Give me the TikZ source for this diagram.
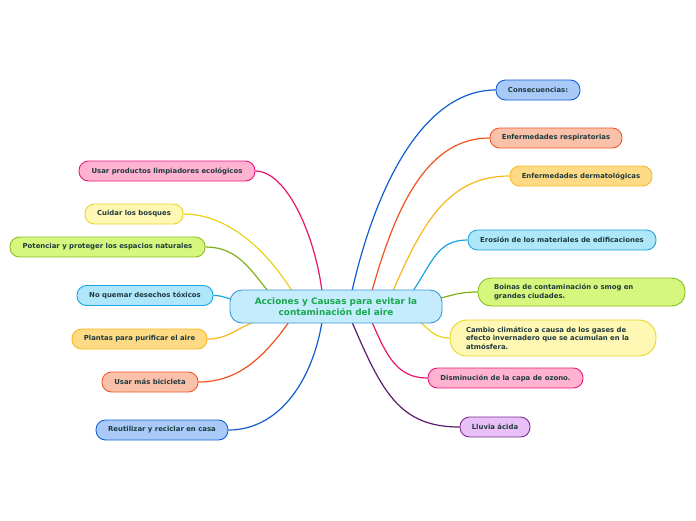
\documentclass[tikz,border=0pt]{standalone}
\usepackage{fontspec}
\setmainfont{DejaVu Sans}
\begin{document}
\begin{tikzpicture}[x=1pt,y=-1pt,
  every node/.style={font=\fontsize{6.9}{8.3}\selectfont\bfseries, text=txt},
  topic/.style={draw, line width=0.9pt, rounded corners=9.5pt, minimum height=20pt, inner xsep=6pt, inner ysep=2pt},
  edge/.style={line width=1.2pt}]
\definecolor{txt}{HTML}{1F3A3D}
\definecolor{pinkF}{HTML}{FFB3D1}\definecolor{pinkB}{HTML}{E8197A}\definecolor{pinkE}{HTML}{E8146E}
\definecolor{yelF}{HTML}{FFF8B5}\definecolor{yelB}{HTML}{EBD42A}\definecolor{yelE}{HTML}{E8D21A}
\definecolor{grnF}{HTML}{D6F77E}\definecolor{grnB}{HTML}{8DBE22}\definecolor{grnE}{HTML}{80B318}
\definecolor{lbF}{HTML}{AEE6FA}\definecolor{lbB}{HTML}{1BA6E3}\definecolor{lbE}{HTML}{18A5E0}
\definecolor{orF}{HTML}{FFDA85}\definecolor{orB}{HTML}{F7B924}\definecolor{orE}{HTML}{F8B71C}
\definecolor{saF}{HTML}{F9C0AA}\definecolor{saB}{HTML}{F05A2A}\definecolor{saE}{HTML}{F0521E}
\definecolor{blF}{HTML}{A9CAF8}\definecolor{blB}{HTML}{1560D5}\definecolor{blE}{HTML}{105ED0}
\definecolor{puF}{HTML}{E8C0F7}\definecolor{puB}{HTML}{7B2F8E}\definecolor{puE}{HTML}{5C1A6E}
\definecolor{cF}{HTML}{C4ECFC}\definecolor{cB}{HTML}{3A96D8}\definecolor{cT}{HTML}{18A84E}
\useasboundingbox (0,0) rectangle (696,520);
\fill[white] (0,0) rectangle (696,520);

% attachment coordinates on the central topic
\coordinate (a1) at (322,291);
\coordinate (a2) at (292,291);
\coordinate (a3) at (268,291);
\coordinate (a4) at (231,299);
\coordinate (a5) at (254,322);
\coordinate (a6) at (289,322);
\coordinate (a7) at (322,322);
\coordinate (b1) at (352,291);
\coordinate (b2) at (372,291);
\coordinate (b3) at (393,291);
\coordinate (b4) at (413,291);
\coordinate (b5) at (441,298);
\coordinate (b6) at (420,322);
\coordinate (b7) at (372,322);
\coordinate (b8) at (352,322);

% left topics
\node[topic, fill=pinkF, draw=pinkB, minimum width=176pt] (l1) at (167,171) {Usar productos limpiadores ecológicos};
\node[topic, fill=yelF, draw=yelB, minimum width=98pt] (l2) at (134,214) {Cuidar los bosques};
\node[topic, fill=grnF, draw=grnB, minimum width=195pt] (l3) at (107.5,247) {Potenciar y proteger los espacios naturales};
\node[topic, fill=lbF, draw=lbB, minimum width=136pt] (l4) at (145,295.5) {No quemar desechos tóxicos};
\node[topic, fill=orF, draw=orB, minimum width=135pt] (l5) at (139.5,339) {Plantas para purificar el aire};
\node[topic, fill=saF, draw=saB, minimum width=96pt] (l6) at (150,382) {Usar más bicicleta};
\node[topic, fill=blF, draw=blB, minimum width=132pt] (l7) at (162,430) {Reutilizar y reciclar en casa};

% right topics
\node[topic, fill=blF, draw=blB, minimum width=84pt] (r1) at (538,90) {Consecuencias:};
\node[topic, fill=saF, draw=saB, minimum width=132pt] (r2) at (556,138) {Enfermedades respiratorias};
\node[topic, fill=orF, draw=orB, minimum width=142pt] (r3) at (581,176) {Enfermedades dermatológicas};
\node[topic, fill=lbF, draw=lbB, minimum width=188pt] (r4) at (562,240) {Erosión de los materiales de edificaciones};
\node[topic, fill=grnF, draw=grnB, minimum width=207pt, minimum height=28pt, rounded corners=13pt, align=left, text width=175pt, inner xsep=16pt] (r5) at (581.5,292) {Boinas de contaminación o smog en\\grandes ciudades.};
\node[topic, fill=yelF, draw=yelB, minimum width=206pt, minimum height=36pt, rounded corners=17pt, align=left, text width=174pt, inner xsep=16pt] (r6) at (553,338) {Cambio climático a causa de los gases de\\efecto invernadero que se acumulan en la\\atmósfera.};
\node[topic, fill=pinkF, draw=pinkB, minimum width=155pt] (r7) at (505.5,378) {Disminución de la capa de ozono.};
\node[topic, fill=puF, draw=puB, minimum width=70pt] (r8) at (495,427) {Lluvia ácida};

% connectors
\draw[edge, pinkE] (l1.east) .. controls +(30,0) and +(-8,-60) .. (a1);
\draw[edge, yelE] (l2.east) .. controls +(45,0) and +(-25,-40) .. (a2);
\draw[edge, grnE] (l3.east) .. controls +(30,0) and +(-20,-25) .. (a3);
\draw[edge, lbE] (l4.east) .. controls +(8,0) and +(-8,-2) .. (a4);
\draw[edge, orE] (l5.east) .. controls +(20,0) and +(-20,8) .. (a5);
\draw[edge, saE] (l6.east) .. controls +(40,0) and +(-25,35) .. (a6);
\draw[edge, blE] (l7.east) .. controls +(50,0) and +(-10,60) .. (a7);

\draw[edge, blE] (b1) .. controls +(25,-110) and +(-70,0) .. (r1.west);
\draw[edge, saE] (b2) .. controls +(25,-90) and +(-60,0) .. (r2.west);
\draw[edge, orE] (b3) .. controls +(30,-70) and +(-60,0) .. (r3.west);
\draw[edge, lbE] (b4) .. controls +(20,-30) and +(-30,0) .. (r4.west);
\draw[edge, grnE] (b5) .. controls +(15,-4) and +(-15,0) .. (r5.west);
\draw[edge, yelE] (b6) .. controls +(10,8) and +(-15,0) .. (r6.west);
\draw[edge, pinkE] (b7) .. controls +(15,35) and +(-30,0) .. (r7.west);
\draw[edge, puE] (b8) .. controls +(30,70) and +(-60,0) .. (r8.west);

% central topic
\node[draw=cB, fill=cF, line width=0.9pt, rounded corners=12pt, minimum width=212pt, minimum height=33pt, align=center, text=cT, font=\fontsize{8.9}{10.5}\selectfont\bfseries] (c) at (336,306.5) {Acciones y Causas para evitar la\\contaminación del aire};
\end{tikzpicture}
\end{document}
